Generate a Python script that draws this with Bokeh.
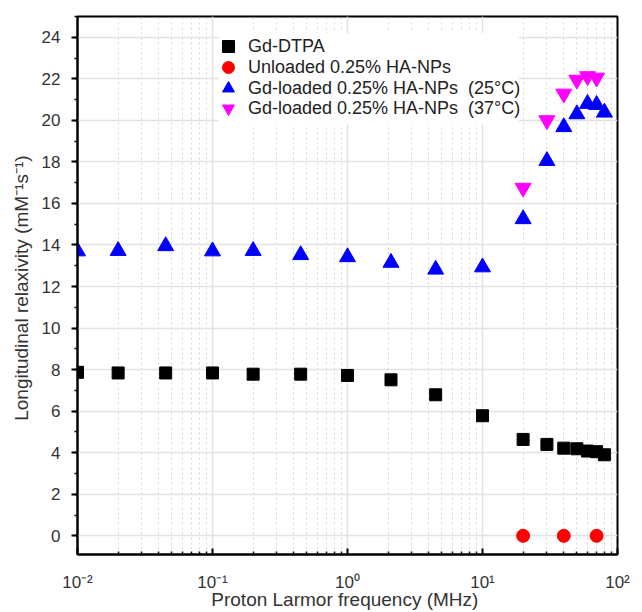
from bokeh.plotting import figure
from bokeh.models import Range1d, FixedTicker, SingleIntervalTicker, Legend, LegendItem, BoxAnnotation
from bokeh.embed import file_html
from bokeh.resources import INLINE

# ---- data ----
freq_dtpa = [0.01, 0.02, 0.045, 0.1, 0.2, 0.45, 1.0, 2.1, 4.5, 10, 20, 30, 40, 50, 60, 70, 80]
r1_dtpa = [7.87, 7.84, 7.84, 7.84, 7.78, 7.78, 7.72, 7.51, 6.79, 5.78, 4.64, 4.40, 4.22, 4.19, 4.08, 4.05, 3.90]

freq_unloaded = [20, 40, 70]
r1_unloaded = [0.0, 0.0, 0.0]

freq_25 = [0.01, 0.02, 0.045, 0.1, 0.2, 0.45, 1.0, 2.1, 4.5, 10, 20, 30, 40, 50, 60, 70, 80]
r1_25 = [13.70, 13.72, 13.95, 13.70, 13.72, 13.52, 13.42, 13.15, 12.82, 12.93, 15.25, 18.05, 19.68, 20.30, 20.80, 20.75, 20.38]

freq_37 = [20, 30, 40, 50, 60, 70]
r1_37 = [16.75, 20.00, 21.28, 21.95, 22.12, 22.05]

x_ticks = [0.01, 0.1, 1, 10, 100]
x_tick_labels = ["10\u207b\u00b2", "10\u207b\u00b9", "10\u2070", "10\u00b9", "10\u00b2"]
x_minor = [m * t for t in x_ticks[:-1] for m in range(2, 10)]

labels = ["Gd-DTPA", "Unloaded 0.25% HA-NPs",
          "Gd-loaded 0.25% HA-NPs  (25\u00b0C)", "Gd-loaded 0.25% HA-NPs  (37\u00b0C)"]

FONT = "Liberation Sans"
TXT = "#333333"

p = figure(width=642, height=612, x_axis_type="log",
           x_range=Range1d(0.01, 100), y_range=Range1d(-0.9, 25),
           output_backend="svg", toolbar_location=None,
           min_border_left=77, min_border_right=25, min_border_top=16, min_border_bottom=58)

p.outline_line_color = "black"
p.outline_line_width = 2
p.outline_line_alpha = 1
p.background_fill_color = "white"
p.border_fill_color = "white"

r_dtpa = p.scatter(freq_dtpa, r1_dtpa, marker="square", size=12, color="black")
r_unl = p.scatter(freq_unloaded, r1_unloaded, marker="circle", size=13, color="#ff0000")
r_25 = p.scatter(freq_25, r1_25, marker="triangle", size=16, color="#0000ff")
r_37 = p.scatter(freq_37, r1_37, marker="inverted_triangle", size=16, color="#ff00ff")

# axes
xa = p.xaxis[0]
xa.ticker = FixedTicker(ticks=x_ticks, minor_ticks=x_minor)
xa.major_label_overrides = {t: l for t, l in zip(x_ticks, x_tick_labels)}
xa.axis_label = "Proton Larmor frequency  (MHz)"
xa.major_tick_in = 6
xa.major_tick_out = 0
xa.minor_tick_in = 3
xa.minor_tick_out = 0
xa.major_label_standoff = 18
xa.axis_label_standoff = -6

ya = p.yaxis[0]
ya.ticker = SingleIntervalTicker(interval=2, num_minor_ticks=2)
ya.axis_label = "Longitudinal relaxivity  (mM\u207b\u00b9s\u207b\u00b9)"
ya.major_tick_in = 0
ya.major_tick_out = 6
ya.minor_tick_in = 0
ya.minor_tick_out = 3
ya.major_label_standoff = 11
ya.axis_label_standoff = 7

for ax in (xa, ya):
    ax.axis_line_width = 2
    ax.axis_line_color = "black"
    ax.major_tick_line_width = 2
    ax.minor_tick_line_width = 1.5
    ax.major_tick_line_color = "black"
    ax.minor_tick_line_color = "black"
    ax.major_label_text_font = FONT
    ax.major_label_text_font_size = "17px"
    ax.major_label_text_color = TXT
    ax.axis_label_text_font = FONT
    ax.axis_label_text_font_size = "19px"
    ax.axis_label_text_font_style = "normal"
    ax.axis_label_text_color = TXT

# grids
p.xgrid.grid_line_color = "#e2e2e2"
p.xgrid.grid_line_width = 1.5
p.xgrid.minor_grid_line_color = "#d6d6d6"
p.xgrid.minor_grid_line_dash = "2 3"
p.ygrid.grid_line_color = "#e2e2e2"
p.ygrid.grid_line_width = 1.5

# white legend background
p.add_layout(BoxAnnotation(left=0.111, right=18.6, bottom=19.8, top=24.2,
                           fill_color="white", fill_alpha=1, line_color=None))

# one legend per row so the symbols can be large while rows stay close
renderers = [r_dtpa, r_unl, r_25, r_37]
row_bottoms = [493, 472, 451, 431]
for lab, rend, yb in zip(labels, renderers, row_bottoms):
    lg = Legend(items=[LegendItem(label=lab, renderers=[rend])],
                location=(136, yb), border_line_color=None,
                background_fill_alpha=0,
                label_text_font=FONT, label_text_font_size="18px", label_text_color="#222222",
                label_height=30, glyph_height=30, glyph_width=30, spacing=0,
                padding=0, margin=0, label_standoff=5)
    p.add_layout(lg)

open("out.html", "w").write(file_html(p, INLINE))
